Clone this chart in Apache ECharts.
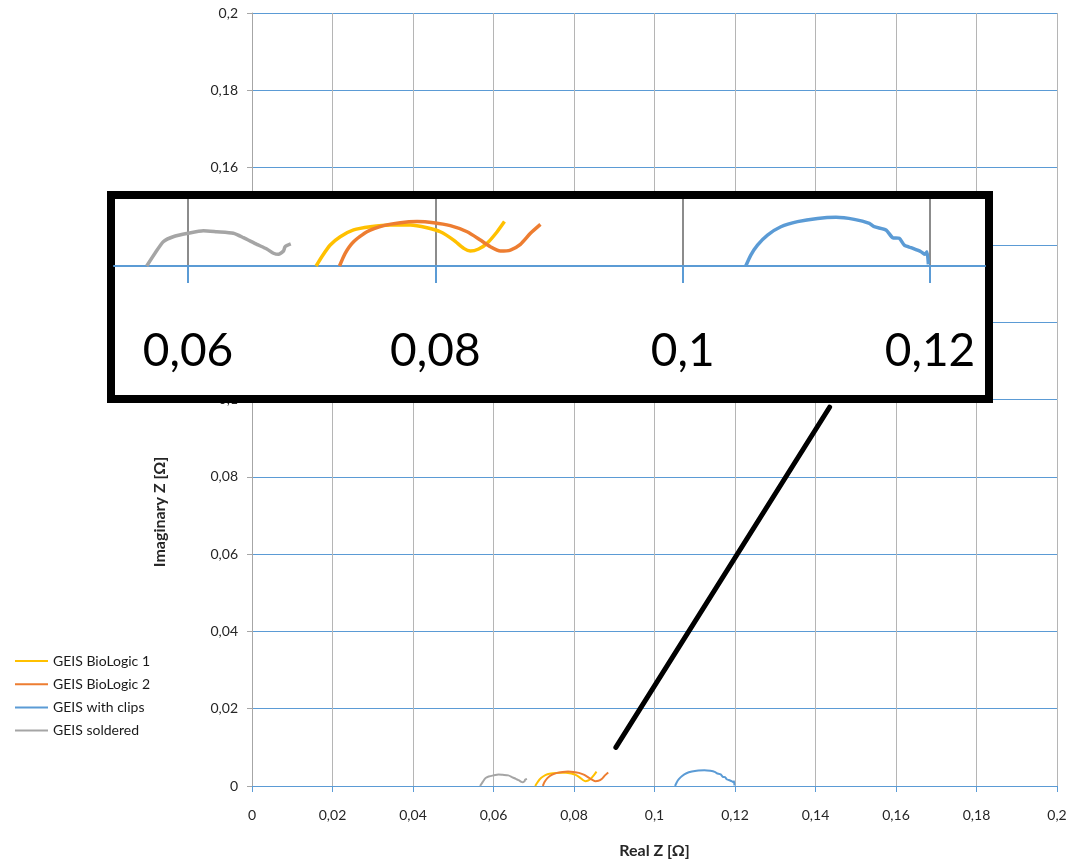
<!DOCTYPE html>
<html>
<head>
<meta charset="utf-8">
<title>GEIS Nyquist plot</title>
<script src="https://cdn.jsdelivr.net/npm/echarts@6/dist/echarts.min.js"></script>
<style>
  html, body { margin: 0; padding: 0; background: #fff; }
  #chart { width: 1077px; height: 860px; }
</style>
</head>
<body>
<div id="chart"></div>
<script>
// Impedance spectra: [Real Z, Imaginary Z] in ohms
const seriesNames = ['GEIS BioLogic 1', 'GEIS BioLogic 2', 'GEIS with clips', 'GEIS soldered'];
const seriesColors = ['#FFC000', '#ED7D31', '#5B9BD5', '#A5A5A5'];

const bioLogic1 = [
  [0.07036, 0], [0.07082, 0.00078], [0.0715, 0.00176], [0.07231, 0.00246], [0.07339, 0.00303],
  [0.07474, 0.0033], [0.07636, 0.00345], [0.07798, 0.00345], [0.07933, 0.00322], [0.0804, 0.00288],
  [0.08148, 0.00218], [0.0823, 0.00148], [0.08283, 0.00126], [0.0835, 0.00143], [0.08418, 0.0019],
  [0.085, 0.00288], [0.08559, 0.00373]
];
const bioLogic2 = [
  [0.07225, 0], [0.07271, 0.00107], [0.07339, 0.00204], [0.07447, 0.00288], [0.07581, 0.00339],
  [0.07717, 0.00364], [0.07852, 0.00373], [0.07986, 0.00364], [0.08121, 0.00339], [0.08257, 0.00288],
  [0.08364, 0.00218], [0.08445, 0.00162], [0.08526, 0.00126], [0.08607, 0.00134], [0.08688, 0.00182],
  [0.08769, 0.00275], [0.0885, 0.0035]
];
const withClips = [
  [0.1051, 0], [0.10551, 0.00092], [0.10605, 0.00176], [0.10686, 0.0026], [0.10794, 0.0033],
  [0.10929, 0.00373], [0.11091, 0.004], [0.1124, 0.00409], [0.11387, 0.00392], [0.1151, 0.00359],
  [0.11549, 0.0033], [0.11644, 0.00303], [0.11698, 0.00238], [0.11751, 0.00233], [0.11792, 0.00176],
  [0.11846, 0.00154], [0.11927, 0.0012], [0.1196, 0.00098], [0.11976, 0.0012], [0.11987, 0.00014]
];
const soldered = [
  [0.05666, 0], [0.05733, 0.00107], [0.058, 0.00204], [0.0588, 0.00246], [0.06, 0.00275],
  [0.06124, 0.00297], [0.06232, 0.00288], [0.06367, 0.00275], [0.06448, 0.00238], [0.06556, 0.00182],
  [0.06637, 0.00143], [0.06691, 0.00107], [0.06731, 0.00098], [0.06772, 0.00126], [0.06785, 0.00162],
  [0.06831, 0.00185]
];
const seriesData = [bioLogic1, bioLogic2, withClips, soldered];

// Pointer from the low-impedance region up to the magnified view
const pointer = [[0.0904, 0.0100], [0.1435, 0.0980]];

// Axis ranges and tick values
const mainTickStep = 0.02;
const zoomTicks = [0.06, 0.08, 0.1, 0.12];
const zoomRange = [0.054016, 0.124447];
const zoomImagMax = 0.00563;

const comma = v => String(+v.toFixed(4)).replace('.', ',');
const FONT = 'Lato, "Open Sans", sans-serif';

const chart = echarts.init(document.getElementById('chart'), null, { renderer: 'canvas' });

const mainSeries = seriesNames.map((name, i) => ({
  name, type: 'line', xAxisIndex: 0, yAxisIndex: 0,
  data: seriesData[i], showSymbol: false, symbol: 'none', smooth: 0.2,
  lineStyle: { color: seriesColors[i], width: 2 }, itemStyle: { color: seriesColors[i] },
  z: 3, silent: true
}));
const zoomSeries = seriesNames.map((name, i) => ({
  name, type: 'line', xAxisIndex: 1, yAxisIndex: 1,
  data: seriesData[i], showSymbol: false, symbol: 'none', smooth: 0.2,
  lineStyle: { color: seriesColors[i], width: 3.5 }, itemStyle: { color: seriesColors[i] },
  z: 70, silent: true
}));

chart.setOption({
  animation: false,
  backgroundColor: '#fff',
  textStyle: { fontFamily: FONT },
  legend: {
    data: seriesNames,
    orient: 'vertical',
    left: 10, top: 649,
    itemWidth: 33, itemHeight: 14, itemGap: 9.2,
    icon: 'path://M0,6 L33,6 L33,8 L0,8 Z',
    textStyle: { fontSize: 14, color: '#1a1a1a', fontFamily: FONT },
    z: 80
  },
  grid: [
    { left: 252, right: 20, top: 13, bottom: 74, outerBoundsMode: 'none', containLabel: false },
    { left: 114, top: 199, width: 871, height: 67, z: 60, outerBoundsMode: 'none', containLabel: false }
  ],
  xAxis: [
    {
      type: 'value', gridIndex: 0, min: 0, max: 0.2, interval: mainTickStep,
      name: 'Real Z [Ω]', nameLocation: 'middle', nameGap: 57,
      nameTextStyle: { fontSize: 16, fontWeight: 'bold', color: '#262626', fontFamily: FONT },
      axisLine: { show: true, onZero: false, lineStyle: { color: '#5B9BD5', width: 1 } },
      axisTick: { show: true, length: 6, inside: false, lineStyle: { color: '#5B9BD5' } },
      axisLabel: { formatter: comma, fontSize: 14, color: '#262626', margin: 22, fontFamily: FONT },
      splitLine: { show: true, lineStyle: { color: '#B5B5B5', width: 1 } }
    },
    {
      type: 'value', gridIndex: 1, min: zoomRange[0], max: zoomRange[1], z: 60,
      axisLine: { show: true, onZero: false, lineStyle: { color: '#5B9BD5', width: 2 } },
      axisTick: { show: true, length: 17, customValues: zoomTicks, lineStyle: { color: '#5B9BD5', width: 2 } },
      axisLabel: { customValues: zoomTicks, formatter: comma, fontSize: 46, color: '#000', margin: 62, fontFamily: FONT },
      splitLine: { show: true, customValues: zoomTicks, lineStyle: { color: '#8C8C8C', width: 2 } }
    }
  ],
  yAxis: [
    {
      type: 'value', gridIndex: 0, min: 0, max: 0.2, interval: mainTickStep,
      axisLine: { show: true, lineStyle: { color: '#A6A6A6', width: 1 } },
      axisTick: { show: true, length: 5, lineStyle: { color: '#A6A6A6' } },
      axisLabel: { formatter: comma, fontSize: 14, color: '#262626', margin: 14, fontFamily: FONT },
      splitLine: { show: true, lineStyle: { color: '#5B9BD5', width: 1 } }
    },
    {
      type: 'value', gridIndex: 1, min: 0, max: zoomImagMax, show: false, z: 60,
      splitLine: { show: false }
    }
  ],
  graphic: [
    {
      type: 'rect', z: 50,
      shape: { x: 111, y: 195, width: 878, height: 204 },
      style: { fill: '#fff', stroke: '#000', lineWidth: 8 }
    },
    {
      type: 'text', z: 50, x: 160, y: 512, rotation: Math.PI / 2,
      style: {
        text: 'Imaginary Z [Ω]', fill: '#262626', font: 'bold 16px ' + FONT,
        align: 'center', verticalAlign: 'middle'
      }
    }
  ],
  series: [
    ...mainSeries,
    {
      name: 'pointer', type: 'line', xAxisIndex: 0, yAxisIndex: 0,
      data: pointer, showSymbol: false, symbol: 'none', z: 4, silent: true,
      lineStyle: { color: '#000', width: 5, cap: 'round' }
    },
    ...zoomSeries
  ]
});
</script>
</body>
</html>
